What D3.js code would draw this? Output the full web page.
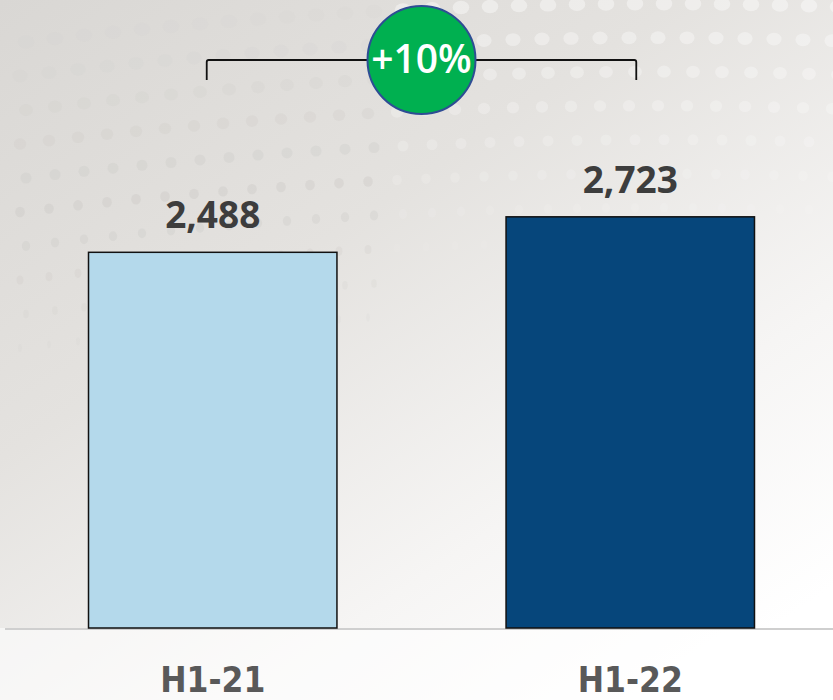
<!DOCTYPE html>
<html>
<head>
<meta charset="utf-8">
<script src="https://cdn.jsdelivr.net/npm/d3@7"></script>
<style>
  body { margin: 0; background: #fff; }
  svg { display: block; }
</style>
</head>
<body>
<div id="chart"></div>
<script>
// data
var periods = ["H1-21", "H1-22"];
var values = [2488, 2723];
var growthLabel = "+10%";

var barColor = d3.scaleOrdinal()
    .domain(periods)
    .range(["#b4d9eb", "#06467b"]);

var width = 833, height = 700;

var svg = d3.select("#chart").append("svg")
    .attr("width", width)
    .attr("height", height);

// background gradient
var defs = svg.append("defs");
var grad = defs.append("linearGradient")
    .attr("id", "bg")
    .attr("x1", "0").attr("y1", "0")
    .attr("x2", "0.8").attr("y2", "1");
grad.append("stop").attr("offset", "0%").attr("stop-color", "#d9d7d4");
grad.append("stop").attr("offset", "40%").attr("stop-color", "#e4e2df");
grad.append("stop").attr("offset", "75%").attr("stop-color", "#f6f5f4");
grad.append("stop").attr("offset", "100%").attr("stop-color", "#ffffff");

svg.append("rect")
    .attr("width", width)
    .attr("height", height)
    .attr("fill", "url(#bg)");

// decorative halftone dots (top of the slide)
var dotRows = d3.range(11), dotCols = d3.range(30);
var dots = [];
dotRows.forEach(function(r) {
    dotCols.forEach(function(c) {
        dots.push({r: r, c: c});
    });
});
var dotG = svg.append("g").attr("class", "dots");
dotG.selectAll("ellipse")
    .data(dots)
    .enter().append("ellipse")
    .attr("cx", function(d) { return 20 + d.c * 29 + (d.r % 2) * 6; })
    .attr("cy", function(d) { return 8 + d.r * 34 + d.c * d.c * 0.08 - d.c * 3.5; })
    .attr("rx", function(d) { return Math.max(1, 9 - d.r * 0.7); })
    .attr("ry", function(d) { return Math.max(1.5, 7 - d.r * 0.3); })
    .attr("fill", function(d) { return d.c > 12 ? "#ffffff" : "#c9c7c4"; })
    .attr("opacity", function(d) {
        var o = d.c > 12 ? 0.45 - d.r * 0.05 : 0.35 - Math.abs(d.r - 6) * 0.06;
        return Math.max(0, o);
    });

// scales
var x = d3.scaleBand()
    .domain(periods)
    .range([5, 838])
    .paddingInner(0.405)
    .paddingOuter(0.2);

var y = d3.scaleLinear()
    .domain([0, 4000])
    .range([628, 24]);

// white floor under baseline
svg.append("rect")
    .attr("x", 0)
    .attr("y", y(0))
    .attr("width", width)
    .attr("height", height - y(0))
    .attr("fill", "#ffffff")
    .attr("opacity", 0.55);

// baseline
svg.append("line")
    .attr("x1", 5)
    .attr("x2", width)
    .attr("y1", y(0) + 1)
    .attr("y2", y(0) + 1)
    .attr("stroke", "#cfcfcf")
    .attr("stroke-width", 2);

// bars
svg.selectAll(".bar")
    .data(periods)
    .enter().append("rect")
    .attr("class", "bar")
    .attr("x", function(d) { return x(d); })
    .attr("y", function(d, i) { return y(values[i]); })
    .attr("width", x.bandwidth())
    .attr("height", function(d, i) { return y(0) - y(values[i]); })
    .attr("fill", function(d) { return barColor(d); })
    .attr("stroke", "#111")
    .attr("stroke-width", 1.5);

// value labels
svg.selectAll(".value")
    .data(periods)
    .enter().append("text")
    .attr("class", "value")
    .attr("x", function(d) { return x(d) + x.bandwidth() / 2; })
    .attr("y", function(d, i) { return y(values[i]) - 24; })
    .attr("text-anchor", "middle")
    .style("font-family", "'Open Sans', sans-serif")
    .style("font-weight", 700)
    .style("font-size", "37px")
    .style("fill", "#3d3d3d")
    .text(function(d, i) { return d3.format(",")(values[i]); });

// category labels
svg.selectAll(".cat")
    .data(periods)
    .enter().append("text")
    .attr("class", "cat")
    .attr("x", function(d) { return x(d) + x.bandwidth() / 2; })
    .attr("y", 692)
    .attr("text-anchor", "middle")
    .style("font-family", "'DejaVu Sans Condensed', 'DejaVu Sans', sans-serif")
    .style("font-stretch", "condensed")
    .style("font-weight", 700)
    .style("font-size", "35px")
    .style("fill", "#595959")
    .text(function(d) { return d; });

// growth bracket
var bx1 = x(periods[0]) + x.bandwidth() / 2 - 6,
    bx2 = x(periods[1]) + x.bandwidth() / 2 + 6,
    by = 60;

svg.append("path")
    .attr("d", "M" + bx1 + "," + (by + 20) + "V" + (by + 2) + "Q" + bx1 + "," + by + " " + (bx1 + 2) + "," + by +
               "H" + (bx2 - 2) + "Q" + bx2 + "," + by + " " + bx2 + "," + (by + 2) + "V" + (by + 20))
    .attr("fill", "none")
    .attr("stroke", "#111")
    .attr("stroke-width", 1.8);

var cx = (bx1 + bx2) / 2;

svg.append("circle")
    .attr("cx", cx)
    .attr("cy", by)
    .attr("r", 54)
    .attr("fill", "#00b050")
    .attr("stroke", "#2e4d94")
    .attr("stroke-width", 2);

svg.append("text")
    .attr("x", cx)
    .attr("y", by + 13)
    .attr("text-anchor", "middle")
    .style("font-family", "'Open Sans', sans-serif")
    .style("font-weight", 600)
    .style("font-size", "39px")
    .style("fill", "#fff")
    .text(growthLabel);
</script>
</body>
</html>
